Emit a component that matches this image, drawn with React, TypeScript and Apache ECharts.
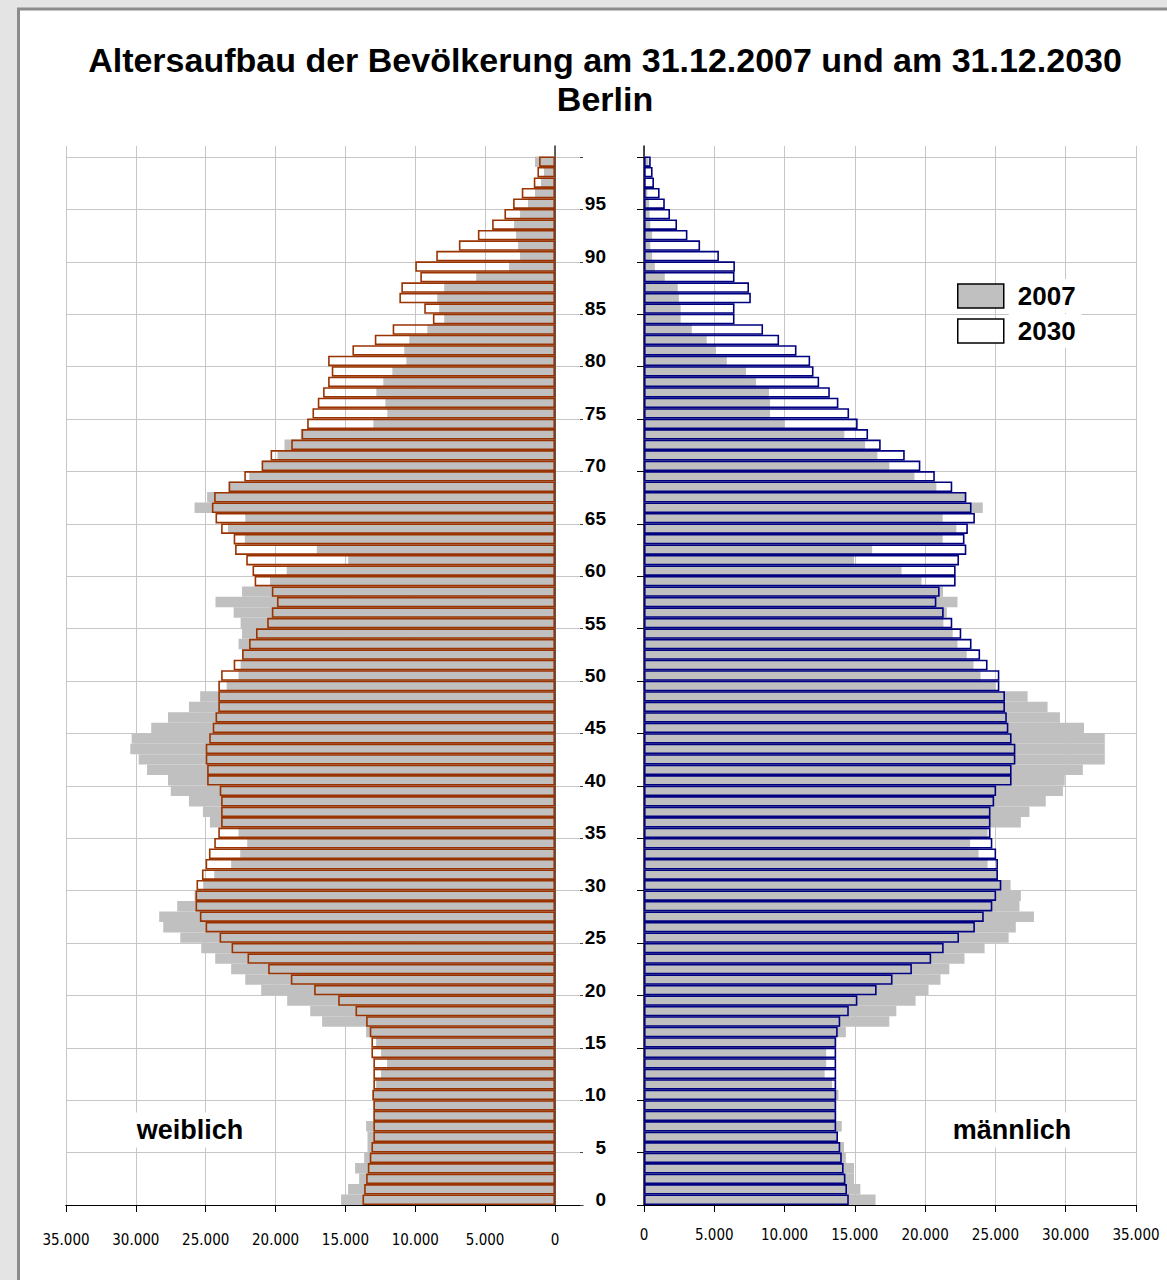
import { useEffect, useRef } from "react";
import * as echarts from "echarts";

// Age categories 0..100 (category 100 is an empty top band)
const AGES: string[] = Array.from({ length: 101 }, (_, i) => String(i));

// Women 2007 (persons), age 0..99
const W2007 = [
  15310, 14810, 14020, 14310, 13660, 13420, 13420, 13520, 13000, 13000,
  13070, 12800, 12450, 12020, 12450, 12800, 13520, 16670, 17520, 19170,
  21030, 22170, 23180, 24320, 25320, 26820, 28040, 28330, 27040, 25800,
  25180, 24390, 23180, 22530, 22030, 22650, 24700, 25200, 26200, 27500,
  27700, 29200, 29800, 30400, 30300, 28900, 27700, 26200, 25400, 23500,
  22650, 22500, 22400, 22650, 22400, 22500, 23000, 24300, 22400, 20400,
  19200, 14800, 17050, 22200, 23400, 22170, 25800, 24900, 23360, 21880,
  20900, 19860, 19360, 18200, 13000, 12000, 12140, 12790, 12290, 11640,
  10640, 10790, 10430, 9140, 7930, 8290, 8430, 7930, 5640, 3290,
  2500, 2640, 2790, 2930, 2500, 1930, 1430, 1000, 790, 1430,
];

// Women 2030 (persons), age 0..99
const W2030 = [
  13780, 13660, 13520, 13400, 13260, 13140, 13000, 13000, 13000, 13000,
  13070, 13000, 13000, 13000, 13140, 13140, 13260, 13520, 14280, 15520,
  17240, 18910, 20530, 22010, 23150, 24010, 25010, 25420, 25730, 25730,
  25660, 25270, 25010, 24770, 24390, 24100, 23900, 23900, 23900, 24000,
  24900, 24900, 25000, 25000, 24750, 24500, 24300, 24100, 24100, 24100,
  23900, 23000, 22400, 21900, 21400, 20600, 20270, 19900, 20270, 21500,
  21650, 22100, 22900, 23000, 23900, 24300, 24560, 24400, 23360, 22240,
  21000, 20360, 18880, 18140, 17740, 17360, 16980, 16600, 16240, 15980,
  16240, 14500, 12900, 11620, 8740, 9360, 11140, 11000, 9640, 10000,
  8500, 6880, 5520, 4500, 3620, 3000, 2380, 1520, 1260, 1140,
];

// Men 2007 (persons), age 0..99
const M2007 = [
  16470, 15390, 14940, 14940, 14360, 14230, 13800, 14070, 13670, 13670,
  13830, 13380, 12850, 12960, 12960, 13670, 14360, 17450, 17950, 19320,
  20240, 21090, 21720, 22800, 24230, 25940, 26450, 27740, 26710, 26810,
  26080, 25180, 24440, 23800, 23200, 24440, 26810, 27420, 28580, 29800,
  29930, 31220, 32780, 32780, 32780, 31300, 29590, 28710, 27290, 24970,
  23940, 23440, 22960, 22300, 21960, 21300, 21540, 22300, 21270, 19740,
  18320, 14940, 16230, 21250, 22220, 21250, 24100, 22930, 20800, 19240,
  17450, 16600, 15730, 14250, 9980, 8970, 8970, 8890, 7970, 7260,
  5890, 5120, 4460, 3400, 2610, 2610, 2480, 2400, 1480, 770,
  580, 450, 580, 450, 400, 370, 240, 150, 150, 320,
];

// Men 2030 (persons), age 0..99
const M2030 = [
  14570, 14440, 14330, 14200, 14070, 13960, 13800, 13670, 13670, 13670,
  13670, 13670, 13670, 13670, 13670, 13670, 13780, 13960, 14570, 15180,
  16550, 17680, 19060, 20430, 21320, 22410, 23540, 24170, 24780, 25050,
  25420, 25180, 25180, 25050, 24780, 24650, 24650, 24650, 24910, 25050,
  26150, 26150, 26420, 26420, 26150, 25920, 25810, 25680, 25680, 25280,
  25280, 24440, 23910, 23300, 22570, 21930, 21320, 20800, 21030, 22170,
  22170, 22410, 22930, 22800, 23040, 23540, 23300, 22930, 21930, 20690,
  19660, 18550, 16840, 15940, 15200, 14590, 13830, 13220, 12460, 12060,
  11820, 10850, 9610, 8470, 6440, 6440, 7600, 7470, 6440, 6470,
  5330, 3990, 3090, 2350, 1850, 1480, 1110, 710, 610, 480,
];

const TITLE = "Altersaufbau der Bevölkerung am 31.12.2007 und am 31.12.2030\nBerlin";
const YEARS = ["2007", "2030"];
const SIDE_LABELS = ["weiblich", "männlich"];

const SANS = '"Liberation Sans", Arial, Helvetica, sans-serif';
const NARROW = '"Liberation Sans Narrow", "Arial Narrow", "DejaVu Sans Condensed", sans-serif';
const GRID_COLOR = "#c6c6c6";
const GRAY = "#c0c0c0";
const WOMEN_LINE = "#993300";
const MEN_LINE = "#000080";

const fmt = (v: number) =>
  v === 0 ? "0" : String(v).replace(/\B(?=(\d{3})+(?!\d))/g, ".");

const withTop = (arr: number[]) => [...arr, null];

export default function App() {
  const ref = useRef<HTMLDivElement>(null);

  useEffect(() => {
    if (!ref.current) return;
    const chart = echarts.init(ref.current, null, { renderer: "svg" });

    const valueAxisCommon = {
      type: "value" as const,
      min: 0,
      max: 35000,
      interval: 5000,
      axisLine: { show: true, onZero: false, lineStyle: { color: "#000", width: 1 } },
      axisTick: { show: true, length: 7, lineStyle: { color: "#000" } },
      splitLine: { show: true, lineStyle: { color: GRID_COLOR, width: 1 } },
    };

    const option: any = {
      animation: false,
      backgroundColor: "transparent",
      title: {
        text: TITLE,
        left: 600,
        top: 35,
        textAlign: "center",
        textStyle: {
          fontFamily: SANS,
          fontSize: 34,
          fontWeight: "bold",
          lineHeight: 39,
          color: "#000",
        },
      },
      legend: {
        orient: "vertical",
        left: 957,
        top: 279,
        padding: 0,
        itemWidth: 46,
        itemHeight: 24,
        itemGap: 1,
        icon: "rect",
        selectedMode: false,
        textStyle: {
          fontFamily: SANS,
          fontSize: 26,
          fontWeight: "bold",
          color: "#000",
          backgroundColor: "#fff",
          padding: [4, 6, 4, 9],
        },
        data: [
          { name: YEARS[0], itemStyle: { color: GRAY, borderColor: "#000", borderWidth: 1.5 } },
          { name: YEARS[1], itemStyle: { color: "#fff", borderColor: "#000", borderWidth: 1.5 } },
        ],
      },
      grid: [
        { left: 66, top: 146, width: 489, height: 1059 },
        { left: 644, top: 146, width: 492, height: 1059 },
        { left: 66, top: 157, width: 517, height: 1048 },
        { left: 644, top: 157, width: 492, height: 1048 },
      ],
      xAxis: [
        {
          ...valueAxisCommon,
          gridIndex: 0,
          inverse: true,
          axisLabel: { formatter: fmt, fontFamily: NARROW, fontSize: 15, color: "#000", margin: 27 },
        },
        {
          ...valueAxisCommon,
          gridIndex: 1,
          axisLabel: { formatter: fmt, fontFamily: NARROW, fontSize: 15, color: "#000", margin: 22 },
        },
        {
          type: "value",
          gridIndex: 2,
          min: 0,
          max: 1,
          axisLine: { show: true, onZero: false, lineStyle: { color: "#000" } },
          axisTick: { show: false },
          axisLabel: { show: false },
          splitLine: { show: false },
        },
        { type: "value", gridIndex: 3, min: 0, max: 1, show: false },
      ],
      yAxis: [
        {
          type: "category",
          gridIndex: 0,
          data: AGES,
          position: "right",
          axisLine: { show: true, onZero: false, lineStyle: { color: "#333", width: 1.5 } },
          axisTick: { show: false },
          axisLabel: { show: false },
          splitLine: { show: false },
        },
        {
          type: "category",
          gridIndex: 1,
          data: AGES,
          position: "left",
          axisLine: { show: true, onZero: false, lineStyle: { color: "#111", width: 1.5 } },
          axisTick: { show: false },
          axisLabel: {
            interval: (i: number) => i % 5 === 0 && i < 100,
            fontFamily: SANS,
            fontSize: 19,
            fontWeight: "bold",
            color: "#000",
            margin: 38,
          },
          splitLine: { show: false },
        },
        {
          type: "value",
          gridIndex: 2,
          min: 0,
          max: 100,
          interval: 5,
          position: "right",
          axisLine: { show: false, onZero: false },
          axisTick: { show: true, inside: true, length: 3, lineStyle: { color: "#444" } },
          axisLabel: { show: false },
          splitLine: { show: true, lineStyle: { color: GRID_COLOR, width: 1 } },
        },
        {
          type: "value",
          gridIndex: 3,
          min: 0,
          max: 100,
          interval: 5,
          position: "left",
          axisLine: { show: false, onZero: false },
          axisTick: { show: true, length: 7, lineStyle: { color: "#000" } },
          axisLabel: { show: false },
          splitLine: { show: true, lineStyle: { color: GRID_COLOR, width: 1 } },
        },
      ],
      series: [
        {
          name: YEARS[0],
          type: "bar",
          xAxisIndex: 0,
          yAxisIndex: 0,
          data: withTop(W2007),
          barCategoryGap: "0%",
          barGap: "-100%",
          itemStyle: { color: GRAY },
          silent: true,
          z: 2,
        },
        {
          name: YEARS[1],
          type: "bar",
          xAxisIndex: 0,
          yAxisIndex: 0,
          data: withTop(W2030),
          barCategoryGap: "0%",
          barGap: "-100%",
          itemStyle: { color: "rgba(0,0,0,0)", borderColor: WOMEN_LINE, borderWidth: 1.6 },
          silent: true,
          z: 3,
        },
        {
          name: YEARS[0],
          type: "bar",
          xAxisIndex: 1,
          yAxisIndex: 1,
          data: withTop(M2007),
          barCategoryGap: "0%",
          barGap: "-100%",
          itemStyle: { color: GRAY },
          silent: true,
          z: 2,
        },
        {
          name: YEARS[1],
          type: "bar",
          xAxisIndex: 1,
          yAxisIndex: 1,
          data: withTop(M2030),
          barCategoryGap: "0%",
          barGap: "-100%",
          itemStyle: { color: "rgba(0,0,0,0)", borderColor: MEN_LINE, borderWidth: 1.6 },
          silent: true,
          z: 3,
        },
      ],
      graphic: [
        {
          type: "rect",
          z: -100,
          silent: true,
          shape: { x: 0, y: 0, width: 1167, height: 1280 },
          style: { fill: "#e4e4e4" },
        },
        {
          type: "rect",
          z: -99,
          silent: true,
          shape: { x: 18.5, y: 9, width: 1200, height: 1300 },
          style: { fill: "#fff", stroke: "#8c8c8c", lineWidth: 3 },
        },
        {
          type: "text",
          z: 50,
          style: {
            text: SIDE_LABELS[0],
            x: 190,
            y: 1130,
            align: "center",
            verticalAlign: "middle",
            font: `bold 27px ${SANS}`,
            fill: "#000",
            backgroundColor: "#fff",
            padding: [4, 7],
          },
        },
        {
          type: "text",
          z: 50,
          style: {
            text: SIDE_LABELS[1],
            x: 1012,
            y: 1130,
            align: "center",
            verticalAlign: "middle",
            font: `bold 27px ${SANS}`,
            fill: "#000",
            backgroundColor: "#fff",
            padding: [4, 7],
          },
        },
      ],
    };

    chart.setOption(option);
    return () => chart.dispose();
  }, []);

  return (
    <div
      ref={ref}
      style={{ position: "absolute", left: 0, top: 0, width: 1167, height: 1280 }}
    />
  );
}
